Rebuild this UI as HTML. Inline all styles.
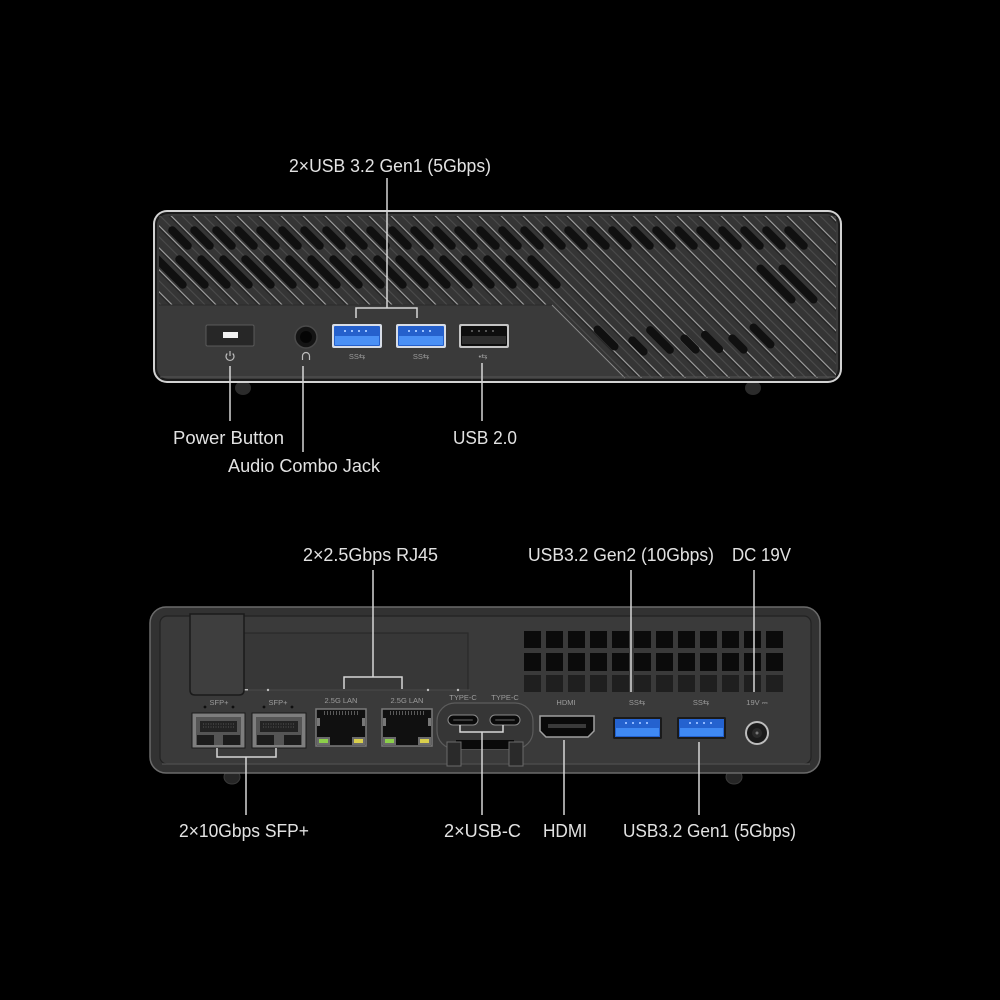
<!DOCTYPE html>
<html><head><meta charset="utf-8"><style>
html,body{margin:0;padding:0;background:#000;}
svg{display:block;}
.lbl{font-family:"Liberation Sans",sans-serif;font-size:18px;fill:#e2e2e2;}
.sm{font-family:"Liberation Sans",sans-serif;font-size:7.5px;fill:#9c9c9c;text-anchor:middle;}
.ln{stroke:#d6d6d6;stroke-width:1.5;fill:none;}
</style></head><body>
<svg width="1000" height="1000" viewBox="0 0 1000 1000" xmlns="http://www.w3.org/2000/svg">
<defs>
  <pattern id="grill" patternUnits="userSpaceOnUse" width="20" height="15.556" patternTransform="rotate(45)">
    <rect x="0" y="0" width="20" height="15.556" fill="#353535"/>
    <rect x="0" y="0" width="20" height="1.2" fill="#a4a4a4"/>
    <rect x="0" y="1.2" width="20" height="1.4" fill="#242424"/>
    <rect x="0" y="7.8" width="20" height="1" fill="#4c4c4c"/>
  </pattern>
  <clipPath id="gclip">
    <path d="M159,216 L836,216 L836,378 L625,378 L552,305 L159,305 Z"/>
  </clipPath>
</defs>
<rect width="1000" height="1000" fill="#000"/>

<!-- ============ FRONT DEVICE ============ -->
<ellipse cx="243" cy="388" rx="8" ry="7" fill="#2b2b2b"/>
<ellipse cx="753" cy="388" rx="8" ry="7" fill="#2b2b2b"/>
<rect x="153" y="210" width="689" height="173" rx="14" fill="#d2d2d2"/>
<rect x="155" y="212" width="685" height="169" rx="12" fill="#1c1c1c"/>
<rect x="157" y="214" width="681" height="165" rx="11" fill="#3a3a3a"/>
<g clip-path="url(#gclip)">
  <rect x="150" y="210" width="700" height="175" fill="url(#grill)"/>
  <g fill="#101010">
    <!-- top row -->
    <g id="rowA">
      <rect x="-15" y="-4" width="30" height="8" rx="4" transform="translate(180,238) rotate(45)"/>
      <rect x="-15" y="-4" width="30" height="8" rx="4" transform="translate(202,238) rotate(45)"/>
      <rect x="-15" y="-4" width="30" height="8" rx="4" transform="translate(224,238) rotate(45)"/>
      <rect x="-15" y="-4" width="30" height="8" rx="4" transform="translate(246,238) rotate(45)"/>
      <rect x="-15" y="-4" width="30" height="8" rx="4" transform="translate(268,238) rotate(45)"/>
      <rect x="-15" y="-4" width="30" height="8" rx="4" transform="translate(290,238) rotate(45)"/>
      <rect x="-15" y="-4" width="30" height="8" rx="4" transform="translate(312,238) rotate(45)"/>
      <rect x="-15" y="-4" width="30" height="8" rx="4" transform="translate(334,238) rotate(45)"/>
      <rect x="-15" y="-4" width="30" height="8" rx="4" transform="translate(356,238) rotate(45)"/>
      <rect x="-15" y="-4" width="30" height="8" rx="4" transform="translate(378,238) rotate(45)"/>
      <rect x="-15" y="-4" width="30" height="8" rx="4" transform="translate(400,238) rotate(45)"/>
      <rect x="-15" y="-4" width="30" height="8" rx="4" transform="translate(422,238) rotate(45)"/>
      <rect x="-15" y="-4" width="30" height="8" rx="4" transform="translate(444,238) rotate(45)"/>
      <rect x="-15" y="-4" width="30" height="8" rx="4" transform="translate(466,238) rotate(45)"/>
      <rect x="-15" y="-4" width="30" height="8" rx="4" transform="translate(488,238) rotate(45)"/>
      <rect x="-15" y="-4" width="30" height="8" rx="4" transform="translate(510,238) rotate(45)"/>
      <rect x="-15" y="-4" width="30" height="8" rx="4" transform="translate(532,238) rotate(45)"/>
      <rect x="-15" y="-4" width="30" height="8" rx="4" transform="translate(554,238) rotate(45)"/>
      <rect x="-15" y="-4" width="30" height="8" rx="4" transform="translate(576,238) rotate(45)"/>
      <rect x="-15" y="-4" width="30" height="8" rx="4" transform="translate(598,238) rotate(45)"/>
      <rect x="-15" y="-4" width="30" height="8" rx="4" transform="translate(620,238) rotate(45)"/>
      <rect x="-15" y="-4" width="30" height="8" rx="4" transform="translate(642,238) rotate(45)"/>
      <rect x="-15" y="-4" width="30" height="8" rx="4" transform="translate(664,238) rotate(45)"/>
      <rect x="-15" y="-4" width="30" height="8" rx="4" transform="translate(686,238) rotate(45)"/>
      <rect x="-15" y="-4" width="30" height="8" rx="4" transform="translate(708,238) rotate(45)"/>
      <rect x="-15" y="-4" width="30" height="8" rx="4" transform="translate(730,238) rotate(45)"/>
      <rect x="-15" y="-4" width="30" height="8" rx="4" transform="translate(752,238) rotate(45)"/>
      <rect x="-15" y="-4" width="30" height="8" rx="4" transform="translate(774,238) rotate(45)"/>
      <rect x="-15" y="-4" width="30" height="8" rx="4" transform="translate(796,238) rotate(45)"/>
    </g>
    <!-- second row -->
    <rect x="-22" y="-4" width="44" height="8" rx="4" transform="translate(170,272) rotate(45)"/>
    <rect x="-22" y="-4" width="44" height="8" rx="4" transform="translate(192,272) rotate(45)"/>
    <rect x="-22" y="-4" width="44" height="8" rx="4" transform="translate(214,272) rotate(45)"/>
    <rect x="-22" y="-4" width="44" height="8" rx="4" transform="translate(236,272) rotate(45)"/>
    <rect x="-22" y="-4" width="44" height="8" rx="4" transform="translate(258,272) rotate(45)"/>
    <rect x="-22" y="-4" width="44" height="8" rx="4" transform="translate(280,272) rotate(45)"/>
    <rect x="-22" y="-4" width="44" height="8" rx="4" transform="translate(302,272) rotate(45)"/>
    <rect x="-22" y="-4" width="44" height="8" rx="4" transform="translate(324,272) rotate(45)"/>
    <rect x="-22" y="-4" width="44" height="8" rx="4" transform="translate(346,272) rotate(45)"/>
    <rect x="-22" y="-4" width="44" height="8" rx="4" transform="translate(368,272) rotate(45)"/>
    <rect x="-22" y="-4" width="44" height="8" rx="4" transform="translate(390,272) rotate(45)"/>
    <rect x="-22" y="-4" width="44" height="8" rx="4" transform="translate(412,272) rotate(45)"/>
    <rect x="-22" y="-4" width="44" height="8" rx="4" transform="translate(434,272) rotate(45)"/>
    <rect x="-22" y="-4" width="44" height="8" rx="4" transform="translate(456,272) rotate(45)"/>
    <rect x="-22" y="-4" width="44" height="8" rx="4" transform="translate(478,272) rotate(45)"/>
    <rect x="-22" y="-4" width="44" height="8" rx="4" transform="translate(500,272) rotate(45)"/>
    <rect x="-22" y="-4" width="44" height="8" rx="4" transform="translate(522,272) rotate(45)"/>
    <rect x="-22" y="-4" width="44" height="8" rx="4" transform="translate(544,272) rotate(45)"/>
    <rect x="-26" y="-4" width="52" height="8" rx="4" transform="translate(776,284) rotate(45)"/>
    <rect x="-26" y="-4" width="52" height="8" rx="4" transform="translate(798,284) rotate(45)"/>
    <!-- bottom right row -->
    <rect x="-16" y="-4" width="32" height="8" rx="4" transform="translate(606,338) rotate(45)"/>
    <rect x="-12" y="-4" width="24" height="8" rx="4" transform="translate(638,346) rotate(45)"/>
    <rect x="-18" y="-4" width="36" height="8" rx="4" transform="translate(660,340) rotate(45)"/>
    <rect x="-12" y="-4" width="24" height="8" rx="4" transform="translate(690,344) rotate(45)"/>
    <rect x="-14" y="-4" width="28" height="8" rx="4" transform="translate(712,342) rotate(45)"/>
    <rect x="-12" y="-4" width="24" height="8" rx="4" transform="translate(738,344) rotate(45)"/>
    <rect x="-16" y="-4" width="32" height="8" rx="4" transform="translate(762,336) rotate(45)"/>
  </g>
</g>
<line x1="159" y1="305" x2="552" y2="305" stroke="#2a2a2a" stroke-width="1"/>
<line x1="552" y1="305" x2="625" y2="378" stroke="#8a8a8a" stroke-width="1"/>
<line x1="160" y1="377" x2="836" y2="377" stroke="#555" stroke-width="1"/>

<!-- power button -->
<rect x="206" y="325" width="48" height="21" rx="1.5" fill="#272727" stroke="#5a5a5a" stroke-width="1"/>
<rect x="223" y="332" width="15" height="6" fill="#f2f2f2"/>
<path d="M227.3,353.5 A4,4 0 1 0 232.7,353.5" stroke="#bdbdbd" stroke-width="1.2" fill="none"/>
<line x1="230" y1="351" x2="230" y2="356" stroke="#bdbdbd" stroke-width="1.2"/>
<!-- audio jack -->
<circle cx="306" cy="337" r="11" fill="#141414" stroke="#4a4a4a" stroke-width="1.5"/>
<circle cx="306" cy="337" r="6" fill="#050505"/>
<path d="M302.5,360 L302.5,356 A3.5,3.5 0 0 1 309.5,356 L309.5,360" stroke="#bdbdbd" stroke-width="1.2" fill="none"/>
<!-- USB 3 front -->
<g>
  <rect x="332" y="324" width="50" height="24" rx="2" fill="#d8dde6"/>
  <rect x="334" y="326" width="46" height="20" rx="1" fill="#2560cc"/>
  <rect x="335" y="336" width="44" height="9" fill="#4a90f5"/>
  <g fill="#9cc2ff"><rect x="344" y="330" width="2" height="2"/><rect x="351" y="330" width="2" height="2"/><rect x="358" y="330" width="2" height="2"/><rect x="365" y="330" width="2" height="2"/></g>
</g>
<g>
  <rect x="396" y="324" width="50" height="24" rx="2" fill="#d8dde6"/>
  <rect x="398" y="326" width="46" height="20" rx="1" fill="#2560cc"/>
  <rect x="399" y="336" width="44" height="9" fill="#4a90f5"/>
  <g fill="#9cc2ff"><rect x="408" y="330" width="2" height="2"/><rect x="415" y="330" width="2" height="2"/><rect x="422" y="330" width="2" height="2"/><rect x="429" y="330" width="2" height="2"/></g>
</g>
<text class="sm" x="357" y="359">SS⇆</text>
<text class="sm" x="421" y="359">SS⇆</text>
<!-- USB 2 front -->
<rect x="459" y="324" width="50" height="24" rx="2" fill="#c4c4c4"/>
<rect x="461" y="326" width="46" height="20" rx="1" fill="#0e0e0e"/>
<rect x="462" y="336" width="44" height="8" fill="#2e2e2e"/>
<g fill="#555"><rect x="471" y="330" width="2" height="2"/><rect x="478" y="330" width="2" height="2"/><rect x="485" y="330" width="2" height="2"/><rect x="492" y="330" width="2" height="2"/></g>
<text class="sm" x="483" y="359">•⇆</text>

<!-- front connectors -->
<path class="ln" d="M387,178 L387,308 M356,318 L356,308 L417,308 L417,318"/>
<line class="ln" x1="230" y1="366" x2="230" y2="421"/>
<line class="ln" x1="303" y1="366" x2="303" y2="452"/>
<line class="ln" x1="482" y1="363" x2="482" y2="421"/>

<text class="lbl" x="289" y="172" textLength="202" lengthAdjust="spacingAndGlyphs">2×USB 3.2 Gen1 (5Gbps)</text>
<text class="lbl" x="173" y="444" textLength="111" lengthAdjust="spacingAndGlyphs">Power Button</text>
<text class="lbl" x="228" y="472" textLength="152" lengthAdjust="spacingAndGlyphs">Audio Combo Jack</text>
<text class="lbl" x="453" y="444" textLength="64" lengthAdjust="spacingAndGlyphs">USB 2.0</text>

<!-- ============ BACK DEVICE ============ -->
<ellipse cx="232" cy="777" rx="8" ry="7" fill="#262626" stroke="#3a3a3a"/>
<ellipse cx="734" cy="777" rx="8" ry="7" fill="#262626" stroke="#3a3a3a"/>
<rect x="150" y="607" width="670" height="166" rx="16" fill="#323232" stroke="#6a6a6a" stroke-width="1.5"/>
<rect x="160" y="616" width="651" height="148" rx="7" fill="#3a3a3a" stroke="#222" stroke-width="1.2"/>
<line x1="162" y1="764" x2="810" y2="764" stroke="#5a5a5a" stroke-width="1"/>
<!-- plate -->
<rect x="244" y="633" width="224" height="57" fill="#373737"/>
<path d="M244,633 L468,633 L468,690" stroke="#2a2a2a" stroke-width="1.2" fill="none"/>
<line x1="244" y1="690" x2="470" y2="690" stroke="#4a4a4a" stroke-width="1"/>
<g fill="#bdbdbd"><circle cx="268" cy="690" r="1.2"/><circle cx="428" cy="690" r="1.2"/><circle cx="458" cy="690" r="1.2"/><rect x="243" y="689" width="5" height="1.5"/></g>
<!-- left block -->
<path d="M190,614 L244,614 L244,690 Q244,695 239,695 L195,695 Q190,695 190,690 Z" fill="#3e3e3e" stroke="#1a1a1a" stroke-width="1.5"/>
<!-- vents -->
<g>
  <g fill="#0b0b0b">
    <rect x="524" y="631" width="17" height="17"/><rect x="546" y="631" width="17" height="17"/><rect x="568" y="631" width="17" height="17"/><rect x="590" y="631" width="17" height="17"/><rect x="612" y="631" width="17" height="17"/><rect x="634" y="631" width="17" height="17"/><rect x="656" y="631" width="17" height="17"/><rect x="678" y="631" width="17" height="17"/><rect x="700" y="631" width="17" height="17"/><rect x="722" y="631" width="17" height="17"/><rect x="744" y="631" width="17" height="17"/><rect x="766" y="631" width="17" height="17"/>
    <rect x="524" y="653" width="17" height="18"/><rect x="546" y="653" width="17" height="18"/><rect x="568" y="653" width="17" height="18"/><rect x="590" y="653" width="17" height="18"/><rect x="612" y="653" width="17" height="18"/><rect x="634" y="653" width="17" height="18"/><rect x="656" y="653" width="17" height="18"/><rect x="678" y="653" width="17" height="18"/><rect x="700" y="653" width="17" height="18"/><rect x="722" y="653" width="17" height="18"/><rect x="744" y="653" width="17" height="18"/><rect x="766" y="653" width="17" height="18"/>
  </g>
  <g fill="#1f1f1f">
    <rect x="524" y="675" width="17" height="17"/><rect x="546" y="675" width="17" height="17"/><rect x="568" y="675" width="17" height="17"/><rect x="590" y="675" width="17" height="17"/><rect x="612" y="675" width="17" height="17"/><rect x="634" y="675" width="17" height="17"/><rect x="656" y="675" width="17" height="17"/><rect x="678" y="675" width="17" height="17"/><rect x="700" y="675" width="17" height="17"/><rect x="722" y="675" width="17" height="17"/><rect x="744" y="675" width="17" height="17"/><rect x="766" y="675" width="17" height="17"/>
  </g>
</g>

<!-- SFP+ cages -->
<g>
  <text class="sm" x="219" y="705">SFP+</text>
  <circle cx="205" cy="707" r="1.4" fill="#0e0e0e"/><circle cx="233" cy="707" r="1.4" fill="#0e0e0e"/>
  <rect x="192" y="713" width="53" height="35" fill="#7e7e7e" stroke="#1a1a1a" stroke-width="1"/>
  <rect x="196" y="717" width="45" height="28" fill="#555"/>
  <rect x="200" y="721" width="37" height="11" fill="#232323"/>
  <path d="M203,724 h31 M203,727 h31" stroke="#6a6a6a" stroke-width="0.8" stroke-dasharray="1 1.5"/>
  <path d="M197,735 L214,735 L214,745 L197,745 Z M223,735 L240,735 L240,745 L223,745 Z" fill="#1c1c1c"/>
</g>
<g>
  <text class="sm" x="278" y="705">SFP+</text>
  <circle cx="264" cy="707" r="1.4" fill="#0e0e0e"/><circle cx="292" cy="707" r="1.4" fill="#0e0e0e"/>
  <rect x="252" y="713" width="54" height="35" fill="#7e7e7e" stroke="#1a1a1a" stroke-width="1"/>
  <rect x="256" y="717" width="46" height="28" fill="#555"/>
  <rect x="260" y="721" width="38" height="11" fill="#232323"/>
  <path d="M263,724 h32 M263,727 h32" stroke="#6a6a6a" stroke-width="0.8" stroke-dasharray="1 1.5"/>
  <path d="M257,735 L274,735 L274,745 L257,745 Z M284,735 L301,735 L301,745 L284,745 Z" fill="#1c1c1c"/>
</g>

<!-- RJ45 -->
<g>
  <text class="sm" x="341" y="703">2.5G LAN</text>
  <rect x="316" y="709" width="50" height="37" fill="#101010" stroke="#7a7a7a" stroke-width="1.5"/>
  <path d="M324,713 h34" stroke="#5a5a5a" stroke-width="4" stroke-dasharray="1 2"/>
  <rect x="317" y="737" width="13" height="8" fill="#6a6a6a"/>
  <rect x="352" y="737" width="13" height="8" fill="#6a6a6a"/>
  <rect x="319" y="739" width="9" height="4" fill="#8ccf4a"/>
  <rect x="354" y="739" width="9" height="4" fill="#d9cf4c"/>
  <rect x="317" y="718" width="3" height="8" fill="#777"/><rect x="362" y="718" width="3" height="8" fill="#777"/>
</g>
<g>
  <text class="sm" x="407" y="703">2.5G LAN</text>
  <rect x="382" y="709" width="50" height="37" fill="#101010" stroke="#7a7a7a" stroke-width="1.5"/>
  <path d="M390,713 h34" stroke="#5a5a5a" stroke-width="4" stroke-dasharray="1 2"/>
  <rect x="383" y="737" width="13" height="8" fill="#6a6a6a"/>
  <rect x="418" y="737" width="13" height="8" fill="#6a6a6a"/>
  <rect x="385" y="739" width="9" height="4" fill="#8ccf4a"/>
  <rect x="420" y="739" width="9" height="4" fill="#d9cf4c"/>
  <rect x="383" y="718" width="3" height="8" fill="#777"/><rect x="428" y="718" width="3" height="8" fill="#777"/>
</g>

<!-- Type-C area -->
<rect x="437" y="703" width="96" height="46" rx="18" fill="#363636" stroke="#5c5c5c" stroke-width="1.2"/>
<text class="sm" x="463" y="700">TYPE-C</text>
<text class="sm" x="505" y="700">TYPE-C</text>
<rect x="448" y="715" width="30" height="10" rx="5" fill="#0a0a0a" stroke="#8a8a8a" stroke-width="1"/>
<rect x="453" y="719" width="20" height="2" rx="1" fill="#3a3a3a"/>
<rect x="490" y="715" width="30" height="10" rx="5" fill="#0a0a0a" stroke="#8a8a8a" stroke-width="1"/>
<rect x="495" y="719" width="20" height="2" rx="1" fill="#3a3a3a"/>
<rect x="456" y="740" width="58" height="9" fill="#0a0a0a"/>
<rect x="447" y="742" width="14" height="24" fill="#2a2a2a" stroke="#6a6a6a" stroke-width="1"/>
<rect x="509" y="742" width="14" height="24" fill="#2a2a2a" stroke="#6a6a6a" stroke-width="1"/>

<!-- HDMI -->
<text class="sm" x="566" y="705">HDMI</text>
<path d="M540,716 L594,716 L594,731 L588,737 L546,737 L540,731 Z" fill="#0a0a0a" stroke="#a0a0a0" stroke-width="1.5"/>
<rect x="548" y="724" width="38" height="4" fill="#3a3a3a"/>

<!-- USB back -->
<g>
  <text class="sm" x="637" y="705">SS⇆</text>
  <rect x="613" y="717" width="49" height="22" rx="1.5" fill="#1a1a1a"/>
  <rect x="615" y="719" width="45" height="18" fill="#2462cf"/>
  <rect x="616" y="728" width="43" height="8" fill="#3f89f3"/>
  <g fill="#8fb8ff"><rect x="625" y="722" width="2" height="2"/><rect x="632" y="722" width="2" height="2"/><rect x="639" y="722" width="2" height="2"/><rect x="646" y="722" width="2" height="2"/></g>
</g>
<g>
  <text class="sm" x="701" y="705">SS⇆</text>
  <rect x="677" y="717" width="49" height="22" rx="1.5" fill="#1a1a1a"/>
  <rect x="679" y="719" width="45" height="18" fill="#2462cf"/>
  <rect x="680" y="728" width="43" height="8" fill="#3f89f3"/>
  <g fill="#8fb8ff"><rect x="689" y="722" width="2" height="2"/><rect x="696" y="722" width="2" height="2"/><rect x="703" y="722" width="2" height="2"/><rect x="710" y="722" width="2" height="2"/></g>
</g>

<!-- DC jack -->
<text class="sm" x="757" y="705">19V ⎓</text>
<circle cx="757" cy="733" r="12" fill="#bdbdbd"/>
<circle cx="757" cy="733" r="10" fill="#1a1a1a"/>
<circle cx="757" cy="733" r="5" fill="#2a2a2a"/>
<circle cx="757" cy="733" r="1.5" fill="#777"/>

<!-- back connectors -->
<path class="ln" d="M373,570 L373,677 M344,689 L344,677 L402,677 L402,689"/>
<line class="ln" x1="631" y1="570" x2="631" y2="692"/>
<line class="ln" x1="754" y1="570" x2="754" y2="692"/>
<path class="ln" d="M217,748 L217,757 L276,757 L276,748 M246,757 L246,815"/>
<path class="ln" d="M460,725 L460,732 L503,732 L503,725 M482,732 L482,815"/>
<line class="ln" x1="564" y1="740" x2="564" y2="815"/>
<line class="ln" x1="699" y1="742" x2="699" y2="815"/>

<text class="lbl" x="303" y="561" textLength="135" lengthAdjust="spacingAndGlyphs">2×2.5Gbps RJ45</text>
<text class="lbl" x="528" y="561" textLength="186" lengthAdjust="spacingAndGlyphs">USB3.2 Gen2 (10Gbps)</text>
<text class="lbl" x="732" y="561" textLength="59" lengthAdjust="spacingAndGlyphs">DC 19V</text>
<text class="lbl" x="179" y="837" textLength="130" lengthAdjust="spacingAndGlyphs">2×10Gbps SFP+</text>
<text class="lbl" x="444" y="837" textLength="77" lengthAdjust="spacingAndGlyphs">2×USB-C</text>
<text class="lbl" x="543" y="837" textLength="44" lengthAdjust="spacingAndGlyphs">HDMI</text>
<text class="lbl" x="623" y="837" textLength="173" lengthAdjust="spacingAndGlyphs">USB3.2 Gen1 (5Gbps)</text>
</svg>
</body></html>
